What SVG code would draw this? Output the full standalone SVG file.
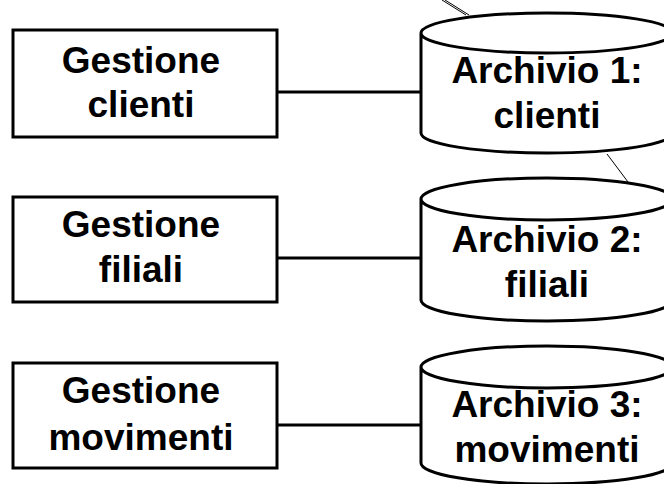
<svg xmlns="http://www.w3.org/2000/svg" width="664" height="484" viewBox="0 0 664 484">
<style>
.box{fill:#fff;stroke:#000;stroke-width:3}
.cyl{fill:#fff;stroke:#000;stroke-width:3}
.lbl{font-family:"Liberation Sans",Arial,sans-serif;font-weight:bold;font-size:37px;text-anchor:middle;fill:#000}
.conn{stroke:#000;stroke-width:3;fill:none}
.thin{stroke:#000;stroke-width:1;fill:none}
</style>
<rect width="664" height="484" fill="#fff"/>
<g id="connectors">
<line class="conn" x1="277" y1="92" x2="421" y2="92"/>
<line class="conn" x1="277" y1="258" x2="421" y2="258"/>
<line class="conn" x1="277" y1="425" x2="421" y2="425"/>
<line class="thin" x1="442" y1="0" x2="466" y2="15"/>
<line class="thin" x1="445" y1="0" x2="469" y2="15"/>
<line class="thin" x1="607" y1="154" x2="628" y2="182"/>
</g>
<g id="gestione-clienti">
<rect class="box" x="13" y="30" width="264" height="107"/>
<text class="lbl" x="141" y="73">Gestione</text>
<text class="lbl" x="141" y="117">clienti</text>
</g>
<g id="gestione-filiali">
<rect class="box" x="13" y="197" width="264" height="105"/>
<text class="lbl" x="141" y="237">Gestione</text>
<text class="lbl" x="141" y="282">filiali</text>
</g>
<g id="gestione-movimenti">
<rect class="box" x="13" y="363" width="264" height="105"/>
<text class="lbl" x="141" y="403">Gestione</text>
<text class="lbl" x="141" y="450">movimenti</text>
</g>
<g id="archivio-1">
<path class="cyl" d="M421,33 A126,20 0 0 1 673,33 L673,133 A126,20 0 0 1 421,133 Z M421,33 A126,20 0 0 0 673,33"/>
<text class="lbl" x="547" y="83">Archivio 1:</text>
<text class="lbl" x="547" y="128">clienti</text>
</g>
<g id="archivio-2">
<path class="cyl" d="M421,199 A126,21 0 0 1 673,199 L673,300 A126,21 0 0 1 421,300 Z M421,199 A126,21 0 0 0 673,199"/>
<text class="lbl" x="547" y="252">Archivio 2:</text>
<text class="lbl" x="547" y="297">filiali</text>
</g>
<g id="archivio-3">
<path class="cyl" d="M421,367 A126,21 0 0 1 673,367 L673,463 A126,21 0 0 1 421,463 Z M421,367 A126,21 0 0 0 673,367"/>
<text class="lbl" x="547" y="417">Archivio 3:</text>
<text class="lbl" x="547" y="462">movimenti</text>
</g>
</svg>
